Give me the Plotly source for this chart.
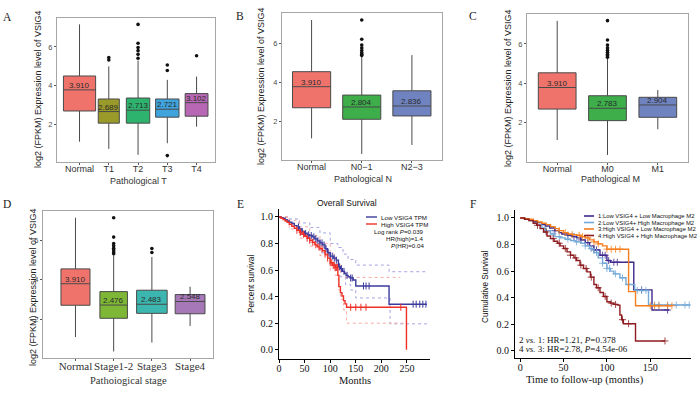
import plotly.graph_objects as go

W, H = 700, 396
SANS = "Arial, Liberation Sans, sans-serif"
SERIF = "Times New Roman, Liberation Serif, serif"

# ---------------- Data: box panels ----------------
A_cats = ["Normal", "T1", "T2", "T3", "T4"]
A_q1 = [2.69, 2.06, 2.06, 2.37, 2.42]
A_med = [3.78, 2.66, 2.73, 2.78, 3.12]
A_q3 = [4.50, 3.31, 3.36, 3.31, 3.59]
A_lo = [1.10, 0.73, 0.42, 1.02, 1.88]
A_hi = [7.17, 5.00, 5.30, 4.30, 4.47]
A_lab = ["3.910", "2.689", "2.713", "2.721", "3.102"]
A_out_cat = ["T1", "T1", "T2", "T2", "T2", "T2", "T2", "T2", "T3", "T3", "T3", "T4"]
A_out_val = [5.45, 5.33, 7.17, 6.19, 5.97, 5.81, 5.62, 5.42, 5.07, 4.78, 0.38, 5.55]

B_cats = ["Normal", "N0\u22121", "N2\u22123"]
B_q1 = [2.68, 2.09, 2.26]
B_med = [3.76, 2.72, 2.77]
B_q3 = [4.53, 3.33, 3.55]
B_lo = [1.11, 0.31, 0.77]
B_hi = [7.18, 5.30, 5.38]
B_lab = ["3.910", "2.804", "2.836"]
B_out_cat = ["N0\u22121"] * 8
B_out_val = [7.18, 6.19, 5.90, 5.75, 5.62, 5.50, 5.42, 5.36]

C_cats = ["Normal", "M0", "M1"]
C_q1 = [2.68, 2.09, 2.26]
C_med = [3.78, 2.72, 2.89]
C_q3 = [4.53, 3.36, 3.28]
C_lo = [1.10, 0.34, 1.65]
C_hi = [7.18, 5.30, 3.65]
C_lab = ["3.910", "2.783", "2.904"]
C_out_cat = ["M0"] * 9
C_out_val = [7.19, 6.20, 5.95, 5.80, 5.68, 5.58, 5.48, 5.40, 5.33]

D_cats = ["Normal", "Stage1-2", "Stage3", "Stage4"]
D_q1 = [2.71, 2.05, 2.30, 2.28]
D_med = [3.80, 2.72, 2.76, 2.90]
D_q3 = [4.55, 3.40, 3.47, 3.25]
D_lo = [1.10, 0.37, 0.82, 1.66]
D_hi = [7.14, 5.25, 5.15, 3.65]
D_lab = ["3.910", "2.476", "2.483", "2.548"]
D_out_cat = ["Stage1-2"] * 8 + ["Stage3"] * 2
D_out_val = [7.14, 6.16, 5.83, 5.72, 5.60, 5.50, 5.40, 5.32, 5.58, 5.38]

# ---------------- Data: survival panel E ----------------
E_low_t = [0, 4, 8, 12, 16, 20, 25, 30, 35, 40, 45, 50, 55, 60, 65, 70, 75, 80, 85, 90, 95, 100,
           106, 112, 116, 120, 124, 128, 131, 135, 139, 145, 150, 215, 289]
E_low_s = [1.0, .995, .99, .98, .97, .96, .95, .935, .925, .91, .89, .875, .865, .86, .85, .835, .82,
           .805, .79, .76, .73, .705, .69, .675, .625, .61, .59, .575, .56, .55, .54, .525, .48, .343, .343]
E_high_t = [0, 4, 8, 12, 16, 20, 25, 30, 35, 40, 45, 50, 55, 60, 65, 70, 75, 80, 85, 90, 95, 100,
            105, 110, 115, 117, 120, 123, 126, 129, 132, 249]
E_high_s = [1.0, .99, .98, .97, .96, .945, .93, .915, .9, .885, .87, .855, .84, .825, .81, .79, .775,
            .76, .745, .72, .69, .655, .635, .62, .56, .475, .43, .405, .37, .345, .32, 0.0]
E_low_up_t = [0, 20, 40, 60, 80, 100, 115, 125, 135, 150, 215, 289]
E_low_up_s = [1.0, .985, .955, .92, .88, .80, .77, .72, .68, .6375, .5875, .5875]
E_low_lo_t = [0, 20, 40, 60, 80, 100, 110, 120, 130, 140, 150, 217, 289]
E_low_lo_s = [1.0, .96, .88, .81, .73, .64, .60, .55, .49, .45, .39, .195, .195]
E_high_up_t = [0, 20, 40, 60, 80, 100, 110, 116, 120, 130, 237]
E_high_up_s = [1.0, .975, .925, .86, .80, .72, .68, .64, .58, .545, .545]
E_high_lo_t = [0, 20, 40, 60, 80, 100, 110, 116, 120, 126, 132, 250]
E_high_lo_s = [1.0, .91, .84, .78, .71, .60, .56, .45, .38, .30, .20, .20]
E_low_cens = [38, 45, 52, 58, 63, 68, 72, 76, 80, 84, 88, 92, 96, 100, 104, 108, 112, 118, 122, 127,
              133, 140, 143, 165, 170, 176, 262, 268, 275, 281, 287]
E_high_cens = [35, 42, 48, 55, 60, 66, 72, 78, 84, 90, 95, 100, 103, 106, 108, 110, 112, 114,
               140, 150, 160, 170, 238]
E_names = ["Low VSIG4 TPM", "High VSIG4 TPM"]
E_stats = ["Log rank <i>P</i>=0.039", "HR(high)=1.4", "<i>P</i>(HR)=0.04"]

# ---------------- Data: survival panel F ----------------
F1_t = [0, 5, 10, 15, 20, 25, 29, 34, 40, 45, 48, 55, 60, 65, 70, 75, 80, 85, 92, 100, 104, 131, 152, 172]
F1_s = [1, .995, .985, .975, .965, .95, .94, .925, .905, .89, .88, .87, .86, .85, .835, .815, .79, .76,
        .72, .68, .667, .459, .308, .308]
F2_t = [0, 5, 10, 15, 20, 25, 29, 35, 40, 46, 52, 58, 64, 70, 75, 80, 85, 90, 95, 100, 104, 108, 115,
        122, 132, 148, 196]
F2_s = [1, .99, .98, .965, .945, .925, .905, .88, .86, .85, .84, .83, .82, .81, .79, .77, .74, .70, .66,
        .62, .60, .58, .55, .50, .455, .346, .346]
F3_t = [0, 5, 10, 15, 20, 25, 30, 35, 40, 45, 50, 55, 60, 65, 70, 75, 80, 85, 90, 95, 100, 125, 133, 175]
F3_s = [1, .995, .99, .98, .97, .96, .95, .935, .92, .905, .89, .88, .875, .87, .86, .85, .835, .82, .805,
        .79, .765, .446, .34, .34]
F4_t = [0, 5, 10, 15, 19, 23, 27, 31, 35, 39, 43, 46, 50, 54, 58, 62, 65, 69, 73, 77, 81, 85, 88, 92,
        96, 100, 104, 108, 112, 115, 117, 119, 133, 167]
F4_s = [1, .99, .98, .96, .945, .92, .895, .865, .845, .825, .81, .79, .77, .745, .72, .70, .68, .645,
        .62, .595, .555, .50, .475, .44, .41, .37, .36, .35, .345, .27, .235, .205, .075, .075]
F1_cens = [40, 55, 62, 70, 78, 85, 88, 95, 98, 102, 108, 112, 125, 140, 170]
F2_cens = [30, 38, 45, 55, 65, 75, 82, 88, 95, 100, 103, 110, 118, 125, 135, 140, 145, 155, 160, 170,
           180, 190, 195]
F3_cens = [45, 52, 60, 68, 72, 78, 85, 90, 100, 105, 110, 115, 150, 155, 160, 170, 175]
F4_cens = [20, 30, 38, 45, 52, 58, 64, 70, 76, 82, 90, 98, 105, 110, 118, 125, 167]
F_names = ["1:Low VSIG4 + Low Macrophage M2", "2:Low VSIG4+ High Macrophage M2",
           "3:High VSIG4 + Low Macrophage M2", "4:High VSIG4 + High Macrophage M2"]
F_stats = ["2 <i>vs.</i> 1: HR=1.21, <i>P</i>=0.378", "4 <i>vs.</i> 3: HR=2.78, <i>P</i>=4.54e-06"]


def px(x):
    return x / W


def py(y):
    return 1 - y / H


def step_at(ts, ss, t):
    v = ss[0]
    for a, b in zip(ts, ss):
        if a <= t:
            v = b
    return v


def note(x, y, text, font, xanchor="center", angle=0):
    return dict(x=px(x), y=py(y), xref="paper", yref="paper", text=text, showarrow=False,
                xanchor=xanchor, yanchor="middle", textangle=angle, font=font)


fig = go.Figure()
annotations = []
shapes = []
layout = {}

# ---------------- Box panels ----------------
panels = [
    dict(ax="", cats=A_cats, q1=A_q1, med=A_med, q3=A_q3, lo=A_lo, hi=A_hi, lab=A_lab,
         oc=A_out_cat, ov=A_out_val,
         colors=["#F0736B", "#9A9A2A", "#2DB36E", "#3FA3DC", "#B767B3"],
         widths=[1.1, 0.72, 0.8, 0.8, 0.78],
         xd=(57, 215), yd=(18, 162), xr=[-0.77, 4.63], yr=[0.05, 7.5],
         xtitle="Pathological T", xt_pos=(138, 181), ytitle_pos=(38, 89),
         letter="A", letter_pos=(7, 17), serif=False),
    dict(ax="2", cats=B_cats, q1=B_q1, med=B_med, q3=B_q3, lo=B_lo, hi=B_hi, lab=B_lab,
         oc=B_out_cat, ov=B_out_val,
         colors=["#F0736B", "#3DAE4A", "#6F83C1"], widths=[0.76, 0.76, 0.76],
         xd=(282, 442), yd=(13, 160), xr=[-0.59, 2.6], yr=[0.0, 7.54],
         xtitle="Pathological N", xt_pos=(363, 179), ytitle_pos=(261, 86),
         letter="B", letter_pos=(240, 16), serif=False),
    dict(ax="3", cats=C_cats, q1=C_q1, med=C_med, q3=C_q3, lo=C_lo, hi=C_hi, lab=C_lab,
         oc=C_out_cat, ov=C_out_val,
         colors=["#F0736B", "#3DAE4A", "#6F83C1"], widths=[0.75, 0.75, 0.75],
         xd=(527, 688), yd=(14, 162), xr=[-0.6, 2.6], yr=[-0.02, 7.53],
         xtitle="Pathological M", xt_pos=(610, 179), ytitle_pos=(508, 88),
         letter="C", letter_pos=(473, 16), serif=False),
    dict(ax="4", cats=D_cats, q1=D_q1, med=D_med, q3=D_q3, lo=D_lo, hi=D_hi, lab=D_lab,
         oc=D_out_cat, ov=D_out_val,
         colors=["#F0736B", "#7DB735", "#3BB7AF", "#A678B8"], widths=[0.76, 0.72, 0.8, 0.78],
         xd=(43, 213), yd=(211, 358), xr=[-0.85, 3.6], yr=[0.04, 7.48],
         xtitle="Pathoiogical stage", xt_pos=(128, 380), ytitle_pos=(33, 287),
         letter="D", letter_pos=(7, 204), serif=True),
]

for p in panels:
    xa, ya = "x" + p["ax"], "y" + p["ax"]
    for i, c in enumerate(p["cats"]):
        fig.add_trace(go.Box(
            x=[c], q1=[p["q1"][i]], median=[p["med"][i]], q3=[p["q3"][i]],
            lowerfence=[p["lo"][i]], upperfence=[p["hi"][i]],
            fillcolor=p["colors"][i], line=dict(color="#4a4a4a", width=1),
            width=p["widths"][i], whiskerwidth=0, boxpoints=False,
            showlegend=False, hoverinfo="skip", xaxis=xa, yaxis=ya))
        annotations.append(dict(x=c, y=p["med"][i], xref=xa, yref=ya, text=p["lab"][i],
                                showarrow=False, yshift=4.5, xanchor="center", yanchor="middle",
                                font=dict(family=SANS, size=8, color="#2a2a2a")))
    fig.add_trace(go.Scatter(x=p["oc"], y=p["ov"], mode="markers",
                             marker=dict(color="#111111", size=3.6), showlegend=False,
                             hoverinfo="skip", xaxis=xa, yaxis=ya))
    tickfont_x = dict(family=SERIF, size=11, color="#333333") if p["serif"] else \
        dict(family=SANS, size=9, color="#333333")
    layout["xaxis" + p["ax"]] = dict(
        domain=[px(p["xd"][0]), px(p["xd"][1])], anchor=ya, type="category",
        categoryorder="array", categoryarray=p["cats"], range=p["xr"], tickangle=0,
        showline=True, mirror=True, linecolor="#a6a6a6", linewidth=1.2,
        ticks="outside", ticklen=2, tickcolor="#555555", tickfont=tickfont_x,
        ticklabelstandoff=-4,
        showgrid=False, zeroline=False, fixedrange=True, automargin=False)
    layout["yaxis" + p["ax"]] = dict(
        domain=[py(p["yd"][1]), py(p["yd"][0])], anchor=xa, range=p["yr"],
        tickvals=[2, 4, 6], ticks="outside", ticklen=2, tickcolor="#555555",
        tickfont=dict(family=SANS, size=7.5, color="#4d4d4d"),
        showline=True, mirror=True, linecolor="#a6a6a6", linewidth=1.2,
        showgrid=False, zeroline=False, fixedrange=True, automargin=False)
    annotations.append(note(p["xt_pos"][0], p["xt_pos"][1], p["xtitle"],
                            dict(family=SERIF, size=10.5, color="#333333") if p["serif"]
                            else dict(family=SANS, size=9, color="#333333")))
    annotations.append(note(p["ytitle_pos"][0], p["ytitle_pos"][1],
                            "log2 (FPKM) Expression level of VSIG4",
                            dict(family=SANS, size=9, color="#222222"), angle=-90))
    annotations.append(note(p["letter_pos"][0], p["letter_pos"][1], p["letter"],
                            dict(family=SERIF, size=11.5, color="#222222")))

# ---------------- Panel E ----------------
E_blue, E_red = "#3B3B9E", "#EE3027"
E_blue_ci, E_red_ci = "#A4A4E4", "#F7AAA4"
for ts, ss, col in [(E_low_up_t, E_low_up_s, E_blue_ci), (E_low_lo_t, E_low_lo_s, E_blue_ci),
                    (E_high_up_t, E_high_up_s, E_red_ci), (E_high_lo_t, E_high_lo_s, E_red_ci)]:
    fig.add_trace(go.Scatter(x=ts, y=ss, mode="lines", line=dict(shape="hv", color=col, width=1, dash="dot"),
                             showlegend=False, hoverinfo="skip", xaxis="x5", yaxis="y5"))
for ts, ss, cens, col in [(E_low_t, E_low_s, E_low_cens, E_blue), (E_high_t, E_high_s, E_high_cens, E_red)]:
    fig.add_trace(go.Scatter(x=ts, y=ss, mode="lines", line=dict(shape="hv", color=col, width=1.4),
                             showlegend=False, hoverinfo="skip", xaxis="x5", yaxis="y5"))
    fig.add_trace(go.Scatter(x=cens, y=[step_at(ts, ss, t) for t in cens], mode="markers",
                             marker=dict(symbol="line-ns", size=5, line=dict(color=col, width=1)),
                             showlegend=False, hoverinfo="skip", xaxis="x5", yaxis="y5"))
layout["xaxis5"] = dict(domain=[px(279), px(430)], anchor="y5", range=[0, 295],
                        tickvals=[0, 50, 100, 150, 200, 250], ticks="outside", ticklen=3,
                        tickcolor="#000", showline=True, linecolor="#000", linewidth=1,
                        tickfont=dict(family=SERIF, size=10, color="#111"), tickangle=0,
                        ticklabelstandoff=-3,
                        showgrid=False, zeroline=False, fixedrange=True, automargin=False)
layout["yaxis5"] = dict(domain=[py(359), py(209)], anchor="x5", range=[-0.07, 1.06],
                        tickvals=[0, 0.2, 0.4, 0.6, 0.8, 1.0], tickformat=".1f", ticks="outside",
                        ticklen=3, tickcolor="#000", showline=True, linecolor="#000", linewidth=1,
                        tickfont=dict(family=SERIF, size=10, color="#111"),
                        showgrid=False, zeroline=False, fixedrange=True, automargin=False)
annotations += [
    note(347, 203, "Overall Survival", dict(family=SANS, size=8.5, color="#111")),
    note(354.5, 380, "Months", dict(family=SERIF, size=10.5, color="#111")),
    note(251, 284, "Percent survival", dict(family=SANS, size=8.2, color="#111"), angle=-90),
    note(240, 204, "E", dict(family=SERIF, size=11.5, color="#222")),
]
E_rows = [217, 224]
for name, col, yy in zip(E_names, [E_blue, E_red], E_rows):
    shapes.append(dict(type="line", xref="paper", yref="paper", x0=px(366), x1=px(377),
                       y0=py(yy), y1=py(yy), line=dict(color=col, width=1.4)))
    annotations.append(note(378.5, yy, name, dict(family=SANS, size=6.2, color="#111"), xanchor="left"))
for txt, yy in zip(E_stats, [231, 238, 245]):
    annotations.append(note(426, yy, txt, dict(family=SANS, size=6.2, color="#111"), xanchor="right"))

# ---------------- Panel F ----------------
F_cols = ["#3F2A8C", "#74A9D8", "#F57E1E", "#8E1B1F"]
F_series = [(F1_t, F1_s, F1_cens), (F2_t, F2_s, F2_cens), (F3_t, F3_s, F3_cens), (F4_t, F4_s, F4_cens)]
for (ts, ss, cens), col in zip(F_series, F_cols):
    fig.add_trace(go.Scatter(x=ts, y=ss, mode="lines", line=dict(shape="hv", color=col, width=1.4),
                             showlegend=False, hoverinfo="skip", xaxis="x6", yaxis="y6"))
    fig.add_trace(go.Scatter(x=cens, y=[step_at(ts, ss, t) for t in cens], mode="markers",
                             marker=dict(symbol="cross-thin", size=5, line=dict(color=col, width=1)),
                             opacity=0.8, showlegend=False, hoverinfo="skip", xaxis="x6", yaxis="y6"))
layout["xaxis6"] = dict(domain=[px(515), px(691)], anchor="y6", range=[-6, 197],
                        tickvals=[0, 50, 100, 150], ticks="outside", ticklen=3,
                        tickcolor="#000", showline=True, linecolor="#000", linewidth=1,
                        tickfont=dict(family=SERIF, size=10, color="#111"), tickangle=0,
                        ticklabelstandoff=-3,
                        showgrid=False, zeroline=False, fixedrange=True, automargin=False)
layout["yaxis6"] = dict(domain=[py(358), py(210)], anchor="x6", range=[-0.053, 1.06],
                        tickvals=[0, 0.2, 0.4, 0.6, 0.8, 1.0], tickformat=".1f", ticks="outside",
                        ticklen=3, tickcolor="#000", showline=True, linecolor="#000", linewidth=1,
                        tickfont=dict(family=SERIF, size=10, color="#111"),
                        showgrid=False, zeroline=False, fixedrange=True, automargin=False)
annotations += [
    note(585, 380, "Time to follow-up (months)", dict(family=SERIF, size=10.5, color="#111")),
    note(485, 287, "Cumulative Survival", dict(family=SANS, size=8.2, color="#111"), angle=-90),
    note(473, 204, "F", dict(family=SERIF, size=11.5, color="#222")),
]
for name, col, yy in zip(F_names, F_cols, [216, 222.5, 229, 235.5]):
    shapes.append(dict(type="line", xref="paper", yref="paper", x0=px(584), x1=px(594),
                       y0=py(yy), y1=py(yy), line=dict(color=col, width=1.6)))
    annotations.append(note(595.5, yy, name, dict(family=SANS, size=5.9, color="#111"), xanchor="left"))
for txt, yy in zip(F_stats, [339.5, 349]):
    annotations.append(note(517, yy, txt, dict(family=SERIF, size=9, color="#111"), xanchor="left"))

fig.update_layout(
    width=W, height=H, margin=dict(l=0, r=0, t=0, b=0, autoexpand=False),
    paper_bgcolor="white", plot_bgcolor="white", showlegend=False,
    annotations=annotations, shapes=shapes, boxmode="overlay", **layout)

fig.write_html("out.html", config={"displayModeBar": False},
               post_script="document.body.style.margin='0';")
